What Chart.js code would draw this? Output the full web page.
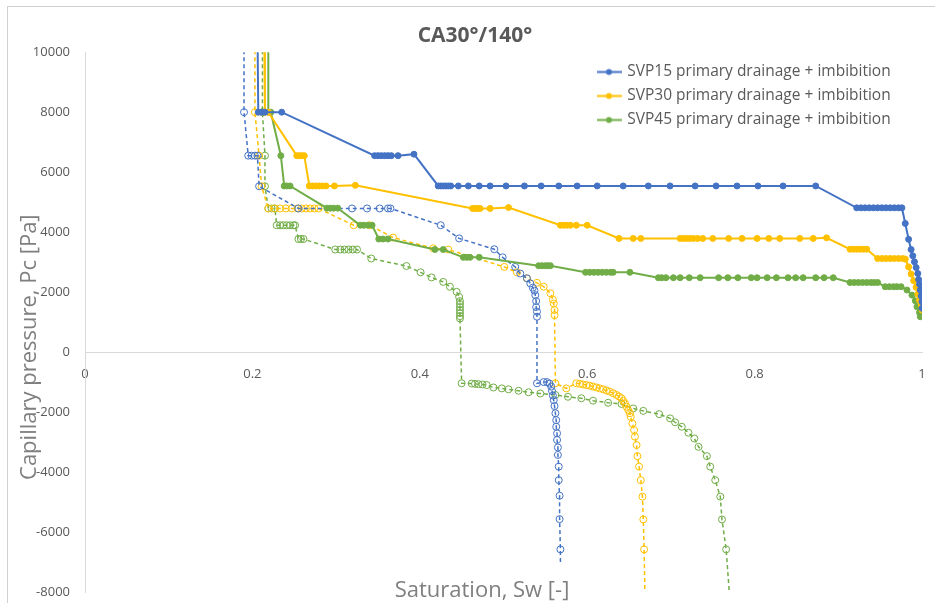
<!DOCTYPE html>
<html>
<head>
<meta charset="utf-8">
<title>CA30°/140°</title>
<script src="https://cdn.jsdelivr.net/npm/chart.js@4.4.1/dist/chart.umd.min.js"></script>
<style>
    html, body { margin: 0; padding: 0; background: #fff; }
    .wrap { position: relative; width: 935px; height: 611px; }
    .frame {
        position: absolute; left: 7px; top: 6px; width: 940px; height: 596px;
        border-left: 1px solid #d0d0d0; border-top: 1px solid #d0d0d0;
    }
    canvas { position: absolute; left: 0; top: 0; }
</style>
</head>
<body>
<div class="wrap">
    <div class="frame"></div>
    <canvas id="pcChart" width="935" height="611"></canvas>
</div>
<script>
// Capillary pressure curves, CA30°/140°
const chartTitle = 'CA30°/140°';
const xTitle = 'Saturation, Sw [-]';
const yTitle = 'Capillary pressure, Pc [Pa]';
const legendNames = [
    'SVP15 primary drainage + imbibition',
    'SVP30 primary drainage + imbibition',
    'SVP45 primary drainage + imbibition'
];

const xTicks = [0, 0.2, 0.4, 0.6, 0.8, 1];
const yTicks = [-8000, -6000, -4000, -2000, 0, 2000, 4000, 6000, 8000, 10000];

// --- SVP15 primary drainage ---
const svp15DrainSw = [
    0.206, 0.207, 0.211, 0.215, 0.235, 0.346, 0.350, 0.354, 0.358, 0.362,
    0.366, 0.374, 0.393, 0.422, 0.425, 0.428, 0.431, 0.434, 0.437, 0.446,
    0.458, 0.471, 0.484, 0.503, 0.525, 0.545, 0.566, 0.588, 0.612, 0.643,
    0.673, 0.699, 0.729, 0.754, 0.779, 0.804, 0.834, 0.873, 0.922, 0.927,
    0.932, 0.937, 0.942, 0.947, 0.952, 0.957, 0.962, 0.967, 0.972, 0.976,
    0.980, 0.984, 0.987, 0.989, 0.991, 0.993, 0.995, 0.996, 0.997, 0.998,
    0.999, 1.000, 1.000
];
const svp15DrainPc = [
    11000, 8000, 8000, 8000, 8000, 6550, 6550, 6550, 6550, 6550,
    6550, 6550, 6600, 5540, 5540, 5540, 5540, 5540, 5540, 5540,
    5540, 5540, 5540, 5540, 5540, 5540, 5540, 5540, 5540, 5540,
    5540, 5540, 5540, 5540, 5540, 5540, 5540, 5540, 4810, 4810,
    4810, 4810, 4810, 4810, 4810, 4810, 4810, 4810, 4810, 4810,
    4290, 3760, 3420, 3210, 3010, 2820, 2620, 2420, 2260, 2070,
    1870, 1680, 1460
];

// --- SVP30 primary drainage ---
const svp30DrainSw = [
    0.214, 0.215, 0.219, 0.253, 0.256, 0.259, 0.262, 0.268, 0.272, 0.276,
    0.280, 0.284, 0.288, 0.298, 0.323, 0.463, 0.466, 0.469, 0.472, 0.484,
    0.506, 0.568, 0.572, 0.576, 0.580, 0.587, 0.600, 0.638, 0.655, 0.664,
    0.711, 0.715, 0.719, 0.723, 0.727, 0.732, 0.738, 0.750, 0.769, 0.785,
    0.803, 0.817, 0.830, 0.854, 0.870, 0.886, 0.914, 0.918, 0.922, 0.926,
    0.930, 0.934, 0.947, 0.952, 0.957, 0.962, 0.967, 0.972, 0.977, 0.980,
    0.984, 0.987, 0.990, 0.993, 0.995, 0.997, 0.999, 1.000
];
const svp30DrainPc = [
    11000, 8000, 8000, 6550, 6550, 6550, 6550, 5540, 5540, 5540,
    5540, 5540, 5540, 5540, 5560, 4790, 4790, 4790, 4790, 4790,
    4820, 4230, 4230, 4230, 4230, 4230, 4230, 3790, 3790, 3790,
    3790, 3790, 3790, 3790, 3790, 3790, 3790, 3790, 3790, 3790,
    3790, 3790, 3790, 3790, 3790, 3810, 3430, 3430, 3430, 3430,
    3430, 3430, 3120, 3120, 3120, 3120, 3120, 3120, 3120, 3100,
    2840, 2600, 2380, 2160, 1930, 1730, 1570, 1400
];

// --- SVP45 primary drainage ---
const svp45DrainSw = [
    0.219, 0.219, 0.222, 0.234, 0.238, 0.241, 0.245, 0.289, 0.293, 0.297,
    0.302, 0.329, 0.333, 0.338, 0.343, 0.351, 0.356, 0.362, 0.418, 0.428,
    0.452, 0.456, 0.460, 0.471, 0.542, 0.546, 0.550, 0.553, 0.556, 0.598,
    0.603, 0.608, 0.613, 0.618, 0.623, 0.628, 0.631, 0.651, 0.685, 0.689,
    0.694, 0.703, 0.711, 0.722, 0.735, 0.757, 0.768, 0.780, 0.796, 0.803,
    0.815, 0.826, 0.840, 0.849, 0.858, 0.873, 0.883, 0.894, 0.914, 0.919,
    0.924, 0.929, 0.934, 0.939, 0.943, 0.947, 0.956, 0.961, 0.966, 0.970,
    0.975, 0.982, 0.988, 0.992, 0.994, 0.997, 0.998
];
const svp45DrainPc = [
    11000, 8000, 8000, 6550, 5540, 5540, 5540, 4800, 4800, 4800,
    4800, 4230, 4230, 4230, 4230, 3770, 3770, 3770, 3420, 3420,
    3160, 3160, 3160, 3160, 2880, 2880, 2880, 2880, 2880, 2660,
    2660, 2660, 2660, 2660, 2660, 2660, 2660, 2660, 2480, 2480,
    2480, 2480, 2480, 2480, 2480, 2480, 2480, 2480, 2480, 2480,
    2480, 2480, 2480, 2480, 2480, 2480, 2480, 2480, 2320, 2320,
    2320, 2320, 2320, 2320, 2320, 2320, 2180, 2180, 2180, 2180,
    2180, 2070, 1900, 1710, 1510, 1320, 1180
];

// --- SVP15 imbibition ---
const svp15ImbSw = [
    0.190, 0.190, 0.195, 0.199, 0.203, 0.206, 0.208, 0.255, 0.319, 0.337,
    0.352, 0.362, 0.365, 0.425, 0.447, 0.489, 0.499, 0.514, 0.520, 0.528,
    0.532, 0.535, 0.537, 0.538, 0.539, 0.539, 0.540, 0.540, 0.540, 0.548,
    0.552, 0.555, 0.557, 0.558, 0.559, 0.560, 0.561, 0.562, 0.563, 0.563,
    0.564, 0.564, 0.565, 0.565, 0.566, 0.566, 0.567, 0.567, 0.568, 0.568
];
const svp15ImbPc = [
    11000, 8000, 6550, 6550, 6550, 6550, 5530, 4790, 4790, 4790,
    4790, 4790, 4790, 4230, 3790, 3430, 3160, 2840, 2620, 2460,
    2290, 2150, 2050, 1900, 1700, 1500, 1350, 1180, -1040, -1000,
    -1000, -1050, -1150, -1300, -1450, -1600, -1800, -2040, -2270, -2490,
    -2710, -2930, -3180, -3430, -3820, -4270, -4790, -5570, -6580, -7040
];

// --- SVP30 imbibition ---
const svp30ImbSw = [
    0.203, 0.203, 0.208, 0.211, 0.219, 0.226, 0.233, 0.240, 0.247, 0.254,
    0.259, 0.264, 0.269, 0.274, 0.279, 0.321, 0.340, 0.368, 0.416, 0.434,
    0.501, 0.516, 0.528, 0.540, 0.548, 0.556, 0.559, 0.560, 0.561, 0.561,
    0.562, 0.575, 0.587, 0.591, 0.595, 0.599, 0.603, 0.607, 0.611, 0.615,
    0.619, 0.623, 0.627, 0.631, 0.635, 0.638, 0.641, 0.643, 0.645, 0.647,
    0.649, 0.651, 0.652, 0.654, 0.656, 0.657, 0.659, 0.660, 0.662, 0.664,
    0.666, 0.667, 0.668, 0.669
];
const svp30ImbPc = [
    11000, 8000, 6550, 5530, 4790, 4790, 4790, 4790, 4790, 4790,
    4790, 4790, 4790, 4790, 4790, 4230, 4230, 3820, 3460, 3420,
    2840, 2660, 2460, 2310, 2180, 1960, 1750, 1620, 1400, 1230,
    -1040, -1210, -1040, -1060, -1080, -1100, -1120, -1150, -1180, -1210,
    -1240, -1280, -1320, -1370, -1430, -1480, -1540, -1620, -1710, -1820,
    -1930, -2040, -2160, -2380, -2600, -2820, -3100, -3470, -3820, -4270,
    -4820, -5580, -6580, -8100
];

// --- SVP45 imbibition ---
const svp45ImbSw = [
    0.212, 0.212, 0.215, 0.215, 0.219, 0.223, 0.227, 0.229, 0.233, 0.237,
    0.241, 0.245, 0.249, 0.251, 0.255, 0.258, 0.261, 0.299, 0.305, 0.310,
    0.315, 0.320, 0.325, 0.342, 0.384, 0.401, 0.414, 0.428, 0.436, 0.444,
    0.447, 0.448, 0.448, 0.448, 0.448, 0.448, 0.448, 0.448, 0.450, 0.462,
    0.466, 0.470, 0.475, 0.480, 0.488, 0.498, 0.506, 0.518, 0.530, 0.544,
    0.562, 0.577, 0.593, 0.607, 0.625, 0.641, 0.655, 0.667, 0.686, 0.699,
    0.705, 0.713, 0.721, 0.728, 0.733, 0.743, 0.747, 0.753, 0.759, 0.761,
    0.766, 0.770
];
const svp45ImbPc = [
    11000, 8000, 6550, 5530, 4790, 4790, 4790, 4230, 4230, 4230,
    4230, 4230, 4230, 4230, 3770, 3770, 3770, 3420, 3420, 3420,
    3420, 3420, 3420, 3120, 2870, 2660, 2490, 2340, 2180, 2010,
    1840, 1700, 1600, 1500, 1400, 1300, 1200, 1120, -1040, -1050,
    -1060, -1070, -1080, -1100, -1180, -1210, -1240, -1290, -1340, -1380,
    -1430, -1490, -1540, -1620, -1690, -1730, -1880, -1960, -2070, -2210,
    -2340, -2490, -2690, -2880, -3160, -3470, -3820, -4270, -4820, -5580,
    -6580, -8100
];

const colors = ['#4472C4', '#FFC000', '#70AD47'];

const toPoints = (sw, pc) => sw.map((x, i) => ({ x, y: pc[i] }));

const drainage = [
    toPoints(svp15DrainSw, svp15DrainPc),
    toPoints(svp30DrainSw, svp30DrainPc),
    toPoints(svp45DrainSw, svp45DrainPc)
];
const imbibition = [
    toPoints(svp15ImbSw, svp15ImbPc),
    toPoints(svp30ImbSw, svp30ImbPc),
    toPoints(svp45ImbSw, svp45ImbPc)
];

// small line-with-dot glyph for the legend entries
function legendSample(color) {
    const c = document.createElement('canvas');
    c.width = 25; c.height = 9;
    const g = c.getContext('2d');
    g.strokeStyle = color; g.lineWidth = 2;
    g.beginPath(); g.moveTo(0, 4.5); g.lineTo(25, 4.5); g.stroke();
    g.fillStyle = color;
    g.beginPath(); g.arc(12.5, 4.5, 3, 0, Math.PI * 2); g.fill();
    return c;
}

const datasets = [];
drainage.forEach((data, i) => {
    datasets.push({
        label: legendNames[i],
        data,
        showLine: true,
        borderColor: colors[i],
        backgroundColor: colors[i],
        borderWidth: 2,
        pointRadius: 3,
        pointBorderWidth: 1,
        pointBackgroundColor: colors[i],
        pointBorderColor: colors[i]
    });
});
imbibition.forEach((data, i) => {
    datasets.push({
        label: legendNames[i].replace('primary drainage + ', ''),
        data,
        showLine: true,
        borderColor: colors[i],
        backgroundColor: 'rgba(0,0,0,0)',
        borderWidth: 1.5,
        borderDash: [4, 3],
        // last point only ends the dashed tail, no marker there
        pointRadius: ctx => ctx.dataIndex === data.length - 1 ? 0 : 3.5,
        pointBorderWidth: 1,
        pointBackgroundColor: 'rgba(255,255,255,0)',
        pointBorderColor: colors[i]
    });
});

// legend sits inside the plot, upper right
const legendPlacer = {
    id: 'legendPlacer',
    afterLayout(chart) {
        const lg = chart.legend;
        const area = chart.chartArea;
        const w = lg.width, h = lg.height;
        lg.left = area.right - 332;
        lg.top = area.top + 3.5;
        lg.right = lg.left + w;
        lg.bottom = lg.top + h;
    }
};

// axis titles (placed freely, the y title overlaps the tick column a bit)
const axisTitles = {
    id: 'axisTitles',
    afterDraw(chart) {
        const { ctx, chartArea: a } = chart;
        ctx.save();
        ctx.fillStyle = '#7f7f7f';
        ctx.font = '22px "Open Sans"';
        ctx.textAlign = 'center';
        ctx.textBaseline = 'alphabetic';
        ctx.fillText(xTitle, a.left + 397, a.bottom + 5);
        ctx.translate(a.left - 49, a.top + 295);
        ctx.rotate(-Math.PI / 2);
        ctx.fillText(yTitle, 0, 0);
        ctx.restore();
    }
};

Chart.defaults.font.family = '"Open Sans", sans-serif';
Chart.defaults.color = '#595959';

new Chart(document.getElementById('pcChart'), {
    type: 'scatter',
    data: { datasets },
    options: {
        responsive: false,
        animation: false,
        events: [],
        layout: { padding: { left: 28, right: 13, top: 10, bottom: 19 } },
        scales: {
            x: {
                type: 'linear',
                position: { y: 0 },
                min: xTicks[0],
                max: xTicks[xTicks.length - 1],
                afterBuildTicks: s => { s.ticks = xTicks.map(v => ({ value: v })); },
                // end labels may hang past the plot edge
                afterFit: s => { s.paddingLeft = 0; s.paddingRight = 0; },
                grid: { display: false, drawTicks: false },
                border: { display: true, color: '#d9d9d9', width: 1 },
                ticks: {
                    padding: 14,
                    color: '#595959',
                    font: { size: 13 },
                    callback: v => String(+v.toFixed(1))
                }
            },
            y: {
                type: 'linear',
                position: 'left',
                min: yTicks[0],
                max: yTicks[yTicks.length - 1],
                afterBuildTicks: s => { s.ticks = yTicks.map(v => ({ value: v })); },
                afterFit: s => { s.width = 57; s.paddingTop = 0; s.paddingBottom = 0; },
                grid: { display: false, drawTicks: false },
                border: { display: true, color: '#d9d9d9', width: 1 },
                ticks: {
                    padding: 15,
                    color: '#595959',
                    font: { size: 13 },
                    callback: v => String(v)
                }
            }
        },
        plugins: {
            title: {
                display: true,
                text: chartTitle,
                color: '#595959',
                font: { size: 21, weight: 'bold' },
                padding: { top: 13, bottom: 4 }
            },
            legend: {
                position: 'chartArea',
                align: 'start',
                labels: {
                    usePointStyle: true,
                    pointStyleWidth: 21,
                    padding: 8.5,
                    color: '#595959',
                    font: { size: 15.5 },
                    generateLabels: chart => Chart.defaults.plugins.legend.labels.generateLabels(chart)
                        .filter(item => item.datasetIndex < 3)
                        .map(item => ({ ...item, pointStyle: legendSample(colors[item.datasetIndex]) }))
                }
            },
            tooltip: { enabled: false }
        }
    },
    plugins: [legendPlacer, axisTitles]
});
</script>
</body>
</html>
